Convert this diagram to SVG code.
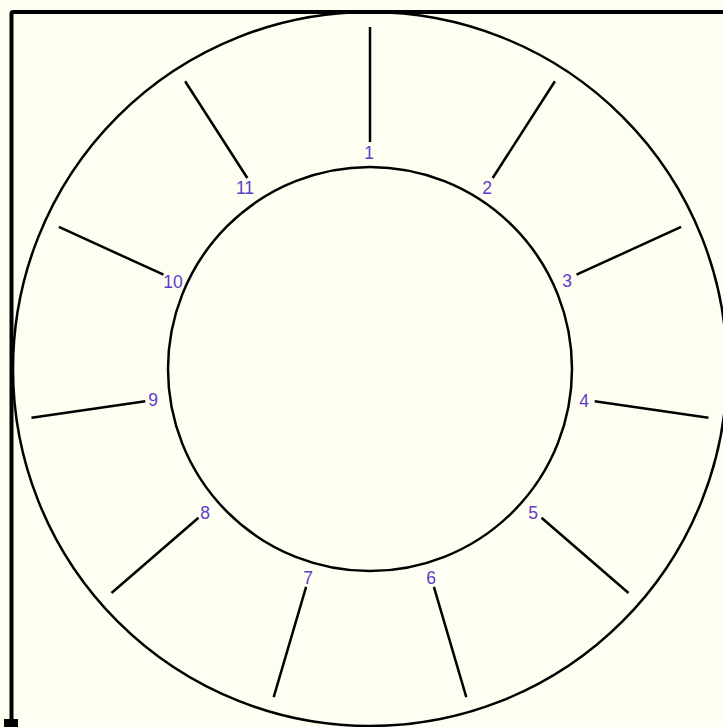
<svg xmlns="http://www.w3.org/2000/svg" width="723" height="727" viewBox="0 0 723 727">
<style>
.ring{fill:none;stroke:#000;stroke-width:2.5}
.spoke{stroke:#000;stroke-width:2.5;stroke-linecap:butt}
.lbl{font-family:"Liberation Sans",Arial,sans-serif;font-size:17.5px;fill:#5b3fc6;text-anchor:middle}
</style>
<rect x="0" y="0" width="723" height="727" fill="#fffef3"/>
<g id="frame">
<path d="M11.5 722 V13.5 Q11.5 12 13 12 H723" fill="none" stroke="#000" stroke-width="4"/>
<rect x="4" y="719" width="14" height="8" fill="#000"/>
</g>
<g id="outer-circle"><circle class="ring" cx="370" cy="369" r="357"/></g>
<g id="inner-circle"><circle class="ring" cx="370" cy="369" r="202"/></g>
<g id="connectors">
<line class="spoke" x1="370" y1="27" x2="370" y2="142"/>
<line class="spoke" x1="554.9" y1="81.3" x2="492.7" y2="178"/>
<line class="spoke" x1="681.1" y1="226.9" x2="576.5" y2="274.7"/>
<line class="spoke" x1="708.5" y1="417.7" x2="594.7" y2="401.3"/>
<line class="spoke" x1="628.5" y1="593" x2="541.5" y2="517.7"/>
<line class="spoke" x1="466.3" y1="697.1" x2="433.9" y2="586.8"/>
<line class="spoke" x1="273.7" y1="697.1" x2="306.1" y2="586.8"/>
<line class="spoke" x1="111.5" y1="593" x2="198.5" y2="517.7"/>
<line class="spoke" x1="31.5" y1="417.7" x2="145.3" y2="401.3"/>
<line class="spoke" x1="58.9" y1="226.9" x2="163.5" y2="274.7"/>
<line class="spoke" x1="185.1" y1="81.3" x2="247.3" y2="178"/>
</g>
<g id="n1"><text class="lbl" x="369" y="158.5">1</text></g>
<g id="n2"><text class="lbl" x="487" y="193.5">2</text></g>
<g id="n3"><text class="lbl" x="567" y="286.5">3</text></g>
<g id="n4"><text class="lbl" x="584" y="406.5">4</text></g>
<g id="n5"><text class="lbl" x="533" y="518.5">5</text></g>
<g id="n6"><text class="lbl" x="431" y="583.5">6</text></g>
<g id="n7"><text class="lbl" x="308" y="583.5">7</text></g>
<g id="n8"><text class="lbl" x="205" y="518.5">8</text></g>
<g id="n9"><text class="lbl" x="153" y="405.5">9</text></g>
<g id="n10"><text class="lbl" x="173" y="287.5">10</text></g>
<g id="n11"><text class="lbl" x="245" y="193.5">11</text></g>
</svg>
